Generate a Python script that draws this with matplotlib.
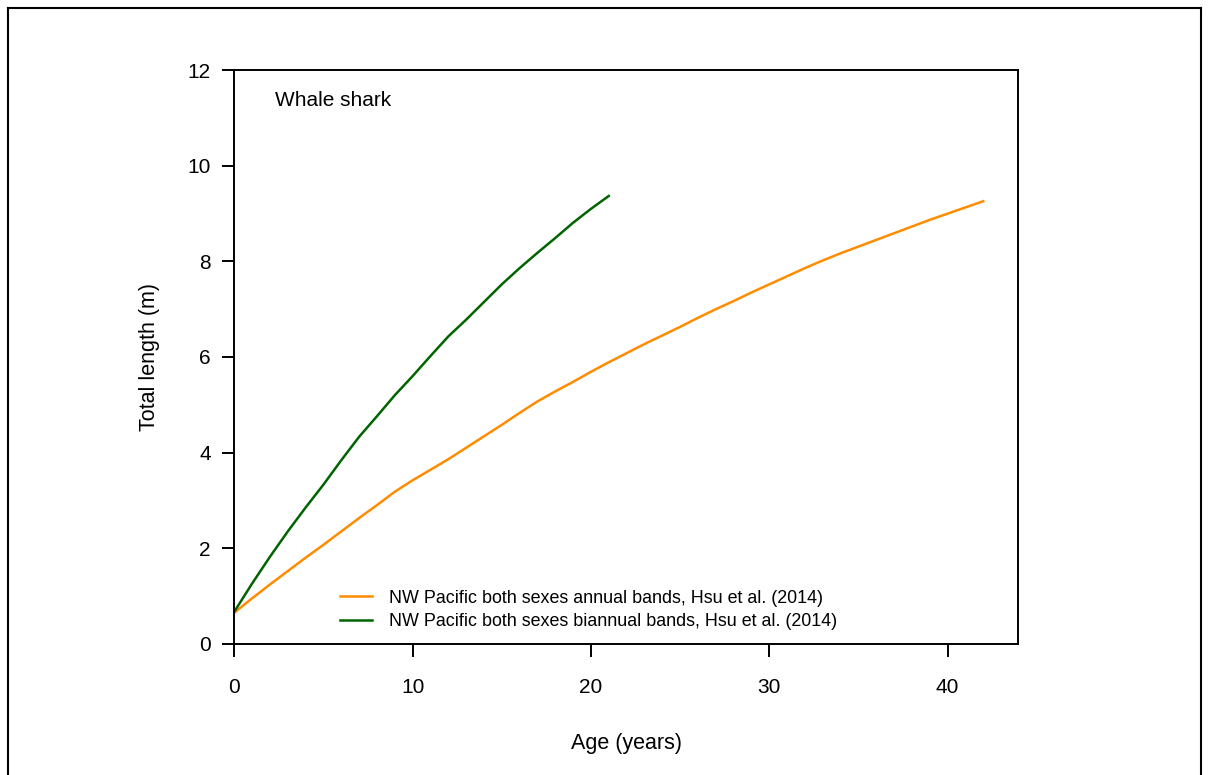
import matplotlib
matplotlib.use("Agg")
import matplotlib.pyplot as plt
from matplotlib.lines import Line2D

plt.rcParams['font.family'] = ['Liberation Sans', 'DejaVu Sans']

ages_annual = list(range(0, 43))
len_annual = [0.65, 0.95, 1.24, 1.52, 1.80, 2.07, 2.35, 2.63, 2.90, 3.18,
              3.42, 3.64, 3.86, 4.10, 4.34, 4.58, 4.83, 5.07, 5.28, 5.48,
              5.69, 5.89, 6.08, 6.27, 6.45, 6.63, 6.82, 7.00, 7.17, 7.35,
              7.52, 7.69, 7.86, 8.02, 8.17, 8.31, 8.45, 8.59, 8.73, 8.87,
              9.00, 9.13, 9.26]

ages_biannual = list(range(0, 22))
len_biannual = [0.67, 1.26, 1.82, 2.35, 2.85, 3.33, 3.84, 4.33, 4.76, 5.20,
                5.60, 6.02, 6.43, 6.78, 7.15, 7.52, 7.86, 8.18, 8.49, 8.81,
                9.10, 9.37]

label_annual = "NW Pacific both sexes annual bands, Hsu et al. (2014)"
label_biannual = "NW Pacific both sexes biannual bands, Hsu et al. (2014)"
x_ticks = [0, 10, 20, 30, 40]
y_ticks = [0, 2, 4, 6, 8, 10, 12]

fig = plt.figure(figsize=(12.09, 7.75), dpi=100)
W, H = 1209, 775
ax = fig.add_axes([234.3 / W, 1 - 643.7 / H, (1018 - 234.3) / W, (643.7 - 70.3) / H])

ax.plot(ages_annual, len_annual, color='#FF8C00', lw=1.8, label=label_annual)
ax.plot(ages_biannual, len_biannual, color='#006400', lw=1.8, label=label_biannual)

ax.set_xlim(0, 43.95)
ax.set_ylim(0, 12)
ax.set_xticks(x_ticks)
ax.set_yticks(y_ticks)
for s in ax.spines.values():
    s.set_linewidth(1.4)
ax.tick_params(axis='x', direction='out', length=9.5, width=1.4, pad=15, labelsize=15)
ax.tick_params(axis='y', direction='out', length=9, width=1.4, pad=8, labelsize=15)

ax.set_xlabel("Age (years)", fontsize=15.5, labelpad=26)
ax.set_ylabel("Total length (m)", fontsize=15.5, labelpad=20)

ax.text(0.052, 0.947, "Whale shark", transform=ax.transAxes, fontsize=15,
        ha='left', va='center')

ax.legend(loc='lower left', bbox_to_anchor=((340 - 234.3) / 783.7, (643.7 - 630) / 573.4),
          frameon=False, fontsize=12.9, handlelength=1.8, handletextpad=0.95,
          borderpad=0, borderaxespad=0, labelspacing=0.35)

# outer frame
fig.add_artist(Line2D([7.5 / W, 7.5 / W], [0, 1 - 7.5 / H], transform=fig.transFigure, color='black', lw=1.5))
fig.add_artist(Line2D([7.5 / W, 1200.5 / W], [1 - 7.5 / H, 1 - 7.5 / H], transform=fig.transFigure, color='black', lw=1.5))
fig.add_artist(Line2D([1200.5 / W, 1200.5 / W], [0, 1 - 7.5 / H], transform=fig.transFigure, color='black', lw=1.5))

fig.savefig("out.png", dpi=100)
